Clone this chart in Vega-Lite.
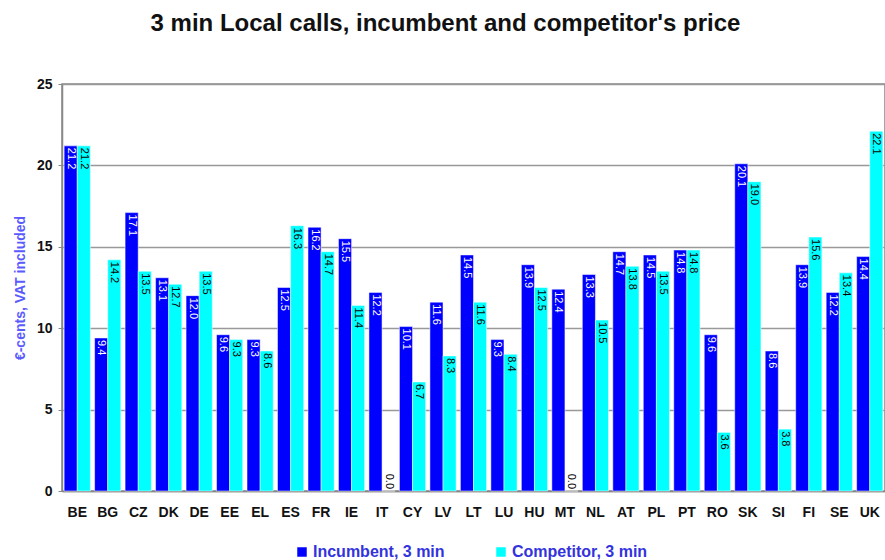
{
  "$schema": "https://vega.github.io/schema/vega-lite/v6.json",
  "autosize": "none",
  "width": 823,
  "height": 407,
  "padding": {"left": 62, "top": 84, "right": 0, "bottom": 69},
  "background": "white",
  "title": {
    "text": "3 min Local calls, incumbent and competitor's price",
    "fontSize": 24,
    "font": "Liberation Sans",
    "fontWeight": "bold",
    "color": "#111111",
    "anchor": "middle",
    "offset": 41,
    "dx": -28
  },
  "config": {
    "view": {"stroke": "#888888", "strokeWidth": 1.5},
    "font": "Liberation Sans"
  },
  "data": {
    "values": [
      {"country": "BE", "Incumbent, 3 min": 21.2, "Competitor, 3 min": 21.2},
      {"country": "BG", "Incumbent, 3 min": 9.4, "Competitor, 3 min": 14.2},
      {"country": "CZ", "Incumbent, 3 min": 17.1, "Competitor, 3 min": 13.5},
      {"country": "DK", "Incumbent, 3 min": 13.1, "Competitor, 3 min": 12.7},
      {"country": "DE", "Incumbent, 3 min": 12.0, "Competitor, 3 min": 13.5},
      {"country": "EE", "Incumbent, 3 min": 9.6, "Competitor, 3 min": 9.3},
      {"country": "EL", "Incumbent, 3 min": 9.3, "Competitor, 3 min": 8.6},
      {"country": "ES", "Incumbent, 3 min": 12.5, "Competitor, 3 min": 16.3},
      {"country": "FR", "Incumbent, 3 min": 16.2, "Competitor, 3 min": 14.7},
      {"country": "IE", "Incumbent, 3 min": 15.5, "Competitor, 3 min": 11.4},
      {"country": "IT", "Incumbent, 3 min": 12.2, "Competitor, 3 min": 0.0},
      {"country": "CY", "Incumbent, 3 min": 10.1, "Competitor, 3 min": 6.7},
      {"country": "LV", "Incumbent, 3 min": 11.6, "Competitor, 3 min": 8.3},
      {"country": "LT", "Incumbent, 3 min": 14.5, "Competitor, 3 min": 11.6},
      {"country": "LU", "Incumbent, 3 min": 9.3, "Competitor, 3 min": 8.4},
      {"country": "HU", "Incumbent, 3 min": 13.9, "Competitor, 3 min": 12.5},
      {"country": "MT", "Incumbent, 3 min": 12.4, "Competitor, 3 min": 0.0},
      {"country": "NL", "Incumbent, 3 min": 13.3, "Competitor, 3 min": 10.5},
      {"country": "AT", "Incumbent, 3 min": 14.7, "Competitor, 3 min": 13.8},
      {"country": "PL", "Incumbent, 3 min": 14.5, "Competitor, 3 min": 13.5},
      {"country": "PT", "Incumbent, 3 min": 14.8, "Competitor, 3 min": 14.8},
      {"country": "RO", "Incumbent, 3 min": 9.6, "Competitor, 3 min": 3.6},
      {"country": "SK", "Incumbent, 3 min": 20.1, "Competitor, 3 min": 19.0},
      {"country": "SI", "Incumbent, 3 min": 8.6, "Competitor, 3 min": 3.8},
      {"country": "FI", "Incumbent, 3 min": 13.9, "Competitor, 3 min": 15.6},
      {"country": "SE", "Incumbent, 3 min": 12.2, "Competitor, 3 min": 13.4},
      {"country": "UK", "Incumbent, 3 min": 14.4, "Competitor, 3 min": 22.1}
    ]
  },
  "transform": [
    {"fold": ["Incumbent, 3 min", "Competitor, 3 min"], "as": ["type", "value"]}
  ],
  "encoding": {
    "x": {
      "field": "country",
      "type": "nominal",
      "sort": null,
      "scale": {"paddingInner": 0.14, "paddingOuter": 0.07},
      "axis": {
        "title": null,
        "labelAngle": 0,
        "labelFontSize": 14,
        "labelFontWeight": "bold",
        "labelColor": "#111111",
        "labelPadding": 14,
        "ticks": false,
        "domainColor": "#888888",
        "domainWidth": 1.5
      }
    },
    "xOffset": {
      "field": "type",
      "type": "nominal",
      "sort": ["Incumbent, 3 min", "Competitor, 3 min"],
      "scale": {"paddingInner": 0, "paddingOuter": 0}
    },
    "y": {
      "field": "value",
      "type": "quantitative",
      "scale": {"domain": [0, 25], "nice": false},
      "axis": {
        "title": "€-cents, VAT included",
        "titleColor": "#5a5aff",
        "titleFontSize": 14,
        "titleFontWeight": "bold",
        "titlePadding": 9,
        "values": [0, 5, 10, 15, 20, 25],
        "labelFontSize": 14,
        "labelFontWeight": "bold",
        "labelColor": "#111111",
        "labelPadding": 6,
        "tickSize": 4,
        "tickColor": "#888888",
        "domainColor": "#888888",
        "domainWidth": 1.5,
        "grid": true,
        "gridColor": "#999999",
        "gridWidth": 1.5
      }
    }
  },
  "layer": [
    {
      "mark": {"type": "bar", "stroke": "white", "strokeWidth": 0.5},
      "encoding": {
        "color": {
          "field": "type",
          "type": "nominal",
          "sort": ["Incumbent, 3 min", "Competitor, 3 min"],
          "scale": {"domain": ["Incumbent, 3 min", "Competitor, 3 min"], "range": ["#0000ff", "#00ffff"]},
          "legend": {
            "title": null,
            "orient": "none",
            "legendX": 232,
            "legendY": 460,
            "direction": "horizontal",
            "columns": 2,
            "columnPadding": 48,
            "symbolType": "square",
            "symbolSize": 90,
            "symbolStrokeWidth": 0,
            "labelFontSize": 16,
            "labelFontWeight": "bold",
            "labelColor": "#3333dd",
            "labelOffset": 3
          }
        }
      }
    },
    {
      "transform": [{"filter": "datum.value > 0"}],
      "mark": {"type": "text", "angle": 90, "align": "left", "baseline": "middle", "dx": 2, "fontSize": 11},
      "encoding": {
        "text": {"field": "value", "type": "quantitative", "format": ".1f"},
        "color": {
          "condition": {"test": "datum.type === 'Incumbent, 3 min'", "value": "white"},
          "value": "black"
        }
      }
    },
    {
      "transform": [{"filter": "datum.value == 0"}],
      "mark": {"type": "text", "angle": 90, "align": "right", "baseline": "middle", "dx": -2, "fontSize": 11, "color": "black"},
      "encoding": {
        "text": {"field": "value", "type": "quantitative", "format": ".1f"}
      }
    }
  ]
}
